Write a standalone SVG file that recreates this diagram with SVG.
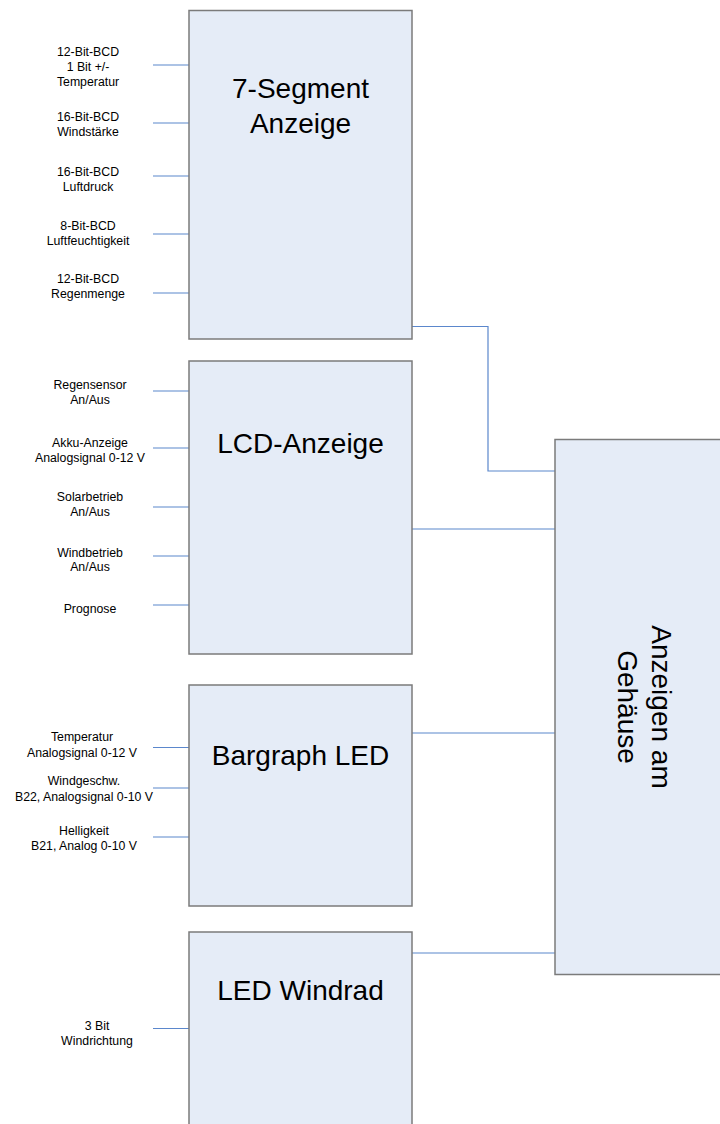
<svg xmlns="http://www.w3.org/2000/svg" width="720" height="1124" viewBox="0 0 720 1124">
<style>
.box{fill:#E5ECF7;stroke:#7b7b7b;stroke-width:1.5}
.ln{fill:none;stroke:#5B87CC;stroke-width:1.2}
.lbl{font-family:"Liberation Sans",Arial,sans-serif;font-size:12.3px;fill:#000;text-anchor:middle}
.ttl{font-family:"Liberation Sans",Arial,sans-serif;font-size:28px;fill:#000;text-anchor:middle}
</style>
<rect width="720" height="1124" fill="#fff"/>
<g id="connectors">
<path class="ln" d="M412 326.5H488V471H555"/>
<path class="ln" d="M412 529H555"/>
<path class="ln" d="M412 733H555"/>
<path class="ln" d="M412 953H555"/>
<path class="ln" d="M153 65H189M153 123H189M153 176H189M153 234H189M153 293H189"/>
<path class="ln" d="M153 391H189M153 448H189M153 507H189M153 556H189M153 605H189"/>
<path class="ln" d="M153 747.5H189M153 788H189M153 837H189"/>
<path class="ln" d="M153 1028.5H189"/>
</g>
<g id="seg7">
<rect class="box" x="189" y="10.5" width="223" height="328.5"/>
<text class="ttl" x="300.5" y="98">7-Segment</text>
<text class="ttl" x="300.5" y="133">Anzeige</text>
</g>
<g id="lcd">
<rect class="box" x="189" y="361" width="223" height="293"/>
<text class="ttl" x="300.5" y="453">LCD-Anzeige</text>
</g>
<g id="bargraph">
<rect class="box" x="189" y="685" width="223" height="221"/>
<text class="ttl" x="300.5" y="765">Bargraph LED</text>
</g>
<g id="windrad">
<rect class="box" x="189" y="932" width="223" height="210"/>
<text class="ttl" x="300.5" y="1000">LED Windrad</text>
</g>
<g id="gehaeuse">
<rect class="box" x="555" y="439.5" width="200" height="535"/>
<g transform="translate(645,707) rotate(90)">
<text class="ttl" x="0" y="-7">Anzeigen am</text>
<text class="ttl" x="0" y="27">Gehäuse</text>
</g>
</g>
<g id="labels">
<text class="lbl" x="88" y="56">12-Bit-BCD</text>
<text class="lbl" x="88" y="71">1 Bit +/-</text>
<text class="lbl" x="88" y="86">Temperatur</text>
<text class="lbl" x="88" y="121">16-Bit-BCD</text>
<text class="lbl" x="88" y="136">Windstärke</text>
<text class="lbl" x="88" y="176">16-Bit-BCD</text>
<text class="lbl" x="88" y="191">Luftdruck</text>
<text class="lbl" x="88" y="230">8-Bit-BCD</text>
<text class="lbl" x="88" y="245">Luftfeuchtigkeit</text>
<text class="lbl" x="88" y="283">12-Bit-BCD</text>
<text class="lbl" x="88" y="298">Regenmenge</text>
<text class="lbl" x="90" y="389">Regensensor</text>
<text class="lbl" x="90" y="404">An/Aus</text>
<text class="lbl" x="90" y="447">Akku-Anzeige</text>
<text class="lbl" x="90" y="462">Analogsignal 0-12 V</text>
<text class="lbl" x="90" y="501">Solarbetrieb</text>
<text class="lbl" x="90" y="516">An/Aus</text>
<text class="lbl" x="90" y="557">Windbetrieb</text>
<text class="lbl" x="90" y="571">An/Aus</text>
<text class="lbl" x="90" y="613">Prognose</text>
<text class="lbl" x="82" y="741">Temperatur</text>
<text class="lbl" x="82" y="757">Analogsignal 0-12 V</text>
<text class="lbl" x="84" y="785">Windgeschw.</text>
<text class="lbl" x="84" y="801">B22, Analogsignal 0-10 V</text>
<text class="lbl" x="84" y="835">Helligkeit</text>
<text class="lbl" x="84" y="850">B21, Analog 0-10 V</text>
<text class="lbl" x="97" y="1030">3 Bit</text>
<text class="lbl" x="97" y="1045">Windrichtung</text>
</g>
</svg>
